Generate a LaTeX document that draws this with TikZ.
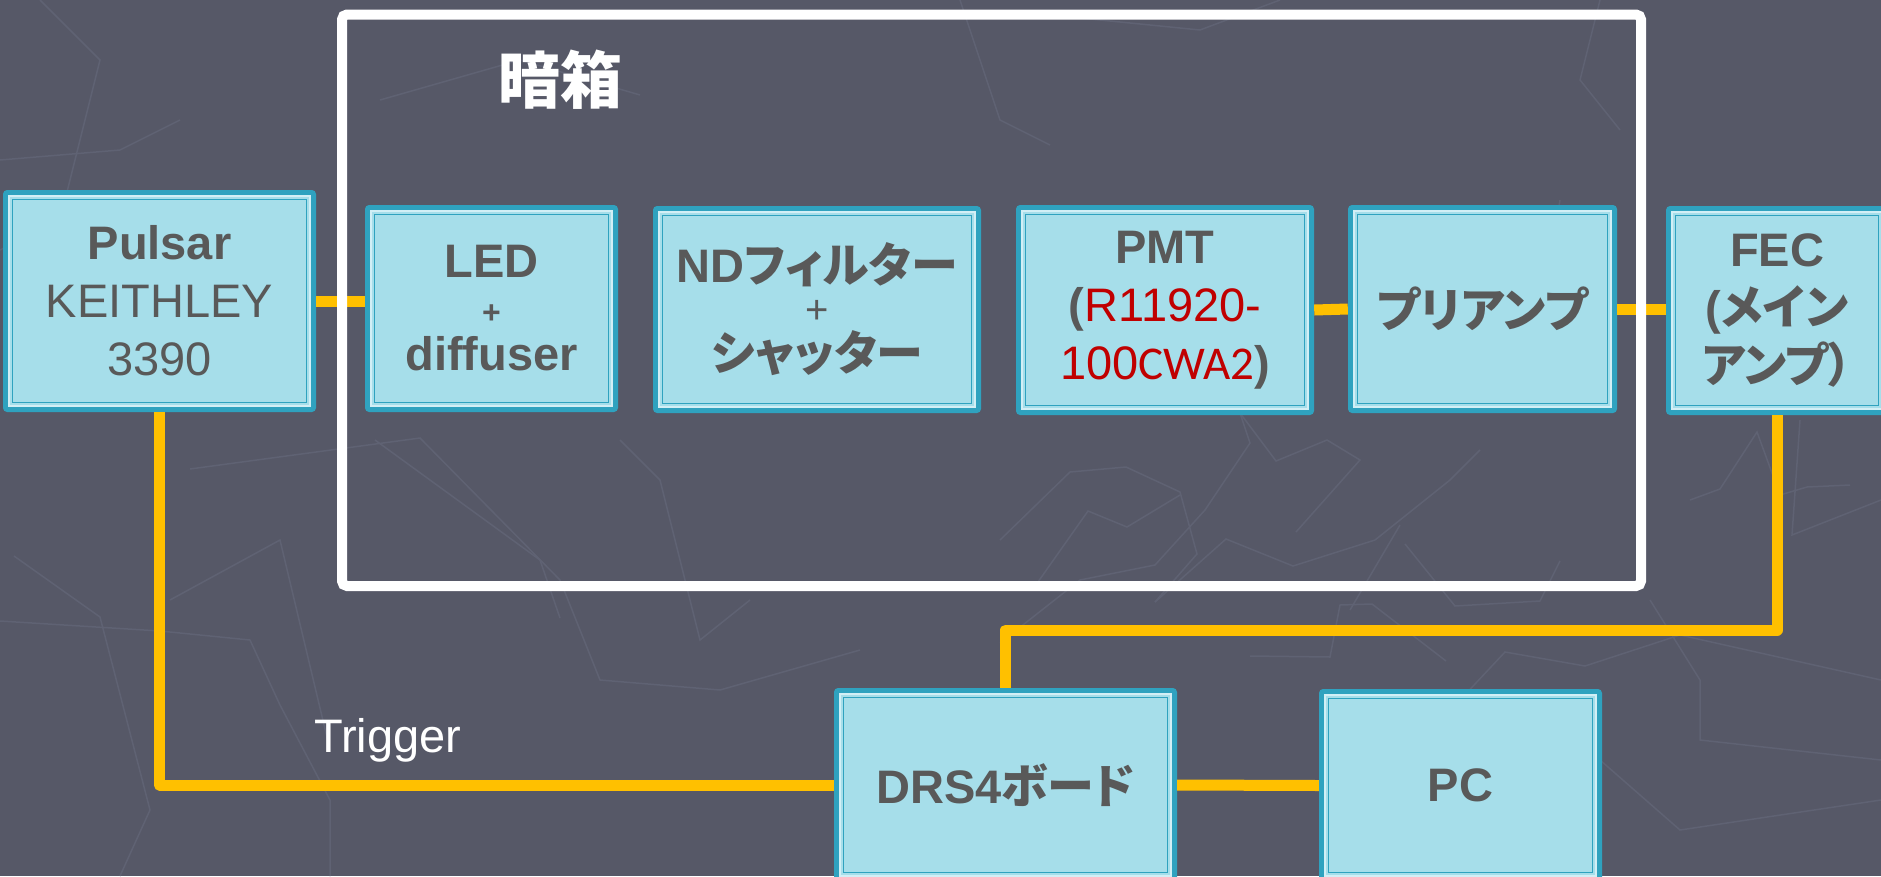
\documentclass[tikz,border=0pt]{standalone}
\usepackage{fontspec}
\setmainfont{Liberation Sans}
\newfontfamily\jpfont{Noto Sans CJK JP}[RawFeature=+palt]
\newfontfamily\calfont{Carlito}
\definecolor{bg}{HTML}{565867}
\definecolor{bgline}{HTML}{5F6273}
\definecolor{tealb}{HTML}{2FA2BF}
\definecolor{boxfill}{HTML}{A6DEEA}
\definecolor{boxline}{HTML}{D2EFF6}
\definecolor{txt}{HTML}{595959}
\definecolor{wire}{HTML}{FFC000}
\definecolor{pmtred}{HTML}{C00000}
\begin{document}
\begin{tikzpicture}[x=1pt,y=-1pt,
  blk/.style={rectangle, rounded corners=4pt, fill=tealb, inner sep=0pt,
    align=center, text=txt, font=\fontsize{47}{58}\selectfont,
    path picture={
      \draw[sharp corners, line width=2pt, draw=boxline, fill=boxfill]
        ([shift={(6pt,6pt)}]path picture bounding box.south west) rectangle
        ([shift={(-6pt,-6pt)}]path picture bounding box.north east);
      \draw[sharp corners, line width=1.5pt, draw=tealb]
        ([shift={(9.5pt,9.5pt)}]path picture bounding box.south west) rectangle
        ([shift={(-9.5pt,-9.5pt)}]path picture bounding box.north east);
    }},
  wirestyle/.style={draw=wire, line width=11pt, line join=round},
  bgl/.style={draw=bgline, line width=1.5pt}
]
\clip (0,0) rectangle (1881,876);
\fill[bg] (0,0) rectangle (1881,876);

% faint background map lines
\draw[bgl] (0,250) -- (60,220) -- (100,60) -- (40,0);
\draw[bgl] (14,556) -- (100,617) -- (150,810) -- (120,876);
\draw[bgl] (0,621) -- (160,631) -- (250,640) -- (280,705) -- (330,800) -- (330,876);
\draw[bgl] (190,469) -- (420,438) -- (560,580) -- (600,680) -- (720,690) -- (860,650);
\draw[bgl] (170,600) -- (280,540) -- (330,750);
\draw[bgl] (375,440) -- (540,560) -- (560,618);
\draw[bgl] (960,0) -- (1000,120) -- (1050,145);
\draw[bgl] (1000,540) -- (1070,472) -- (1126,467) -- (1180,492) -- (1197,554) -- (1155,602);
\draw[bgl] (1033,589) -- (1088,511) -- (1127,527) -- (1180,495);
\draw[bgl] (1000,643) -- (1080,580) -- (1155,565) -- (1205,510) -- (1250,443) -- (1240,413);
\draw[bgl] (1155,602) -- (1226,539) -- (1293,566) -- (1375,540);
\draw[bgl] (1240,413) -- (1276,461) -- (1327,440) -- (1360,460) -- (1296,532);
\draw[bgl] (1375,540) -- (1450,480) -- (1480,450);
\draw[bgl] (1405,544) -- (1455,606) -- (1540,601) -- (1560,561);
\draw[bgl] (1350,610) -- (1400,525);
\draw[bgl] (1250,656) -- (1330,657) -- (1340,605) -- (1372,604) -- (1446,661);
\draw[bgl] (1460,700) -- (1505,652) -- (1585,666) -- (1680,635) -- (1881,680);
\draw[bgl] (1690,500) -- (1720,489) -- (1757,432) -- (1780,495) -- (1807,487) -- (1850,485);
\draw[bgl] (1800,420) -- (1792,535) -- (1881,500);
\draw[bgl] (1560,200) -- (1540,320) -- (1500,350);
\draw[bgl] (1600,0) -- (1580,80) -- (1620,130);
\draw[bgl] (620,440) -- (660,480) -- (700,640) -- (750,600);
\draw[bgl] (1050,15) -- (1200,30) -- (1280,0);
\draw[bgl] (380,100) -- (520,60) -- (640,95);
\draw[bgl] (0,160) -- (120,150) -- (180,120);
\draw[bgl] (1650,600) -- (1700,680) -- (1700,740) -- (1881,760);
\draw[bgl] (1600,760) -- (1680,830) -- (1881,800);

% boxes
\node[blk, minimum width=313pt, minimum height=222pt] (pulsar) at (159.5,301)
  {\textbf{Pulsar}\\KEITHLEY\\3390};
\node[blk, minimum width=253pt, minimum height=207pt] (led) at (491.5,308.5)
  {\textbf{LED}\\[-12pt]{\fontsize{32}{32}\selectfont\textbf{+}}\\[-11pt]\textbf{diffuser}};
\node[blk, minimum width=328pt, minimum height=207pt] (nd) at (817,309.5)
  {\textbf{ND{\jpfont フィルター}}\\[-17pt]{\fontsize{40}{40}\selectfont +}\\[-11pt]\textbf{\jpfont シャッター}};
\node[blk, minimum width=298pt, minimum height=210pt] (pmt) at (1165,310)
  {\textbf{PMT}\\\textbf{(}{\color{pmtred}R11920-}\\{\color{pmtred}100{\calfont CWA2}}\textbf{)}};
\node[blk, minimum width=269pt, minimum height=208pt] (pre) at (1482.5,309)
  {\textbf{\jpfont プリアンプ}};
\node[blk, minimum width=222pt, minimum height=209pt] (fec) at (1777,310.5)
  {\textbf{FEC}\\\textbf{({\jpfont メイン}}\\\textbf{\jpfont アンプ）}};
\node[blk, minimum width=343pt, minimum height=194pt] (drs) at (1005.5,785)
  {\textbf{DRS4{\jpfont ボード}}};
\node[blk, minimum width=283pt, minimum height=193pt] (pc) at (1460.5,785.5)
  {\textbf{PC}};

% connectors
\draw[wirestyle] (pulsar.east) -- (pulsar.east -| led.west);
\draw[wirestyle] (pmt.east) -- (pre.west);
\draw[wirestyle] (pre.east) -- (pre.east -| fec.west);
\draw[wirestyle] (pulsar.south) |- (drs.west);
\coordinate (fecbend) at (1777,630);
\draw[wirestyle] (fec.south) -- (fecbend) -| (drs.north);
\draw[wirestyle] (drs.east) -- (pc.west);

% dark box frame
\draw[white, line width=10pt, rounded corners=5pt] (342,14.5) rectangle (1641,586);
\node[text=white, font=\fontsize{62}{62}\selectfont\jpfont\bfseries] (title) at (560,80) {暗箱};

\node[text=white, font=\fontsize{47}{47}\selectfont, anchor=base west, inner sep=0pt] (trig) at (314,752) {Trigger};
\end{tikzpicture}
\end{document}
